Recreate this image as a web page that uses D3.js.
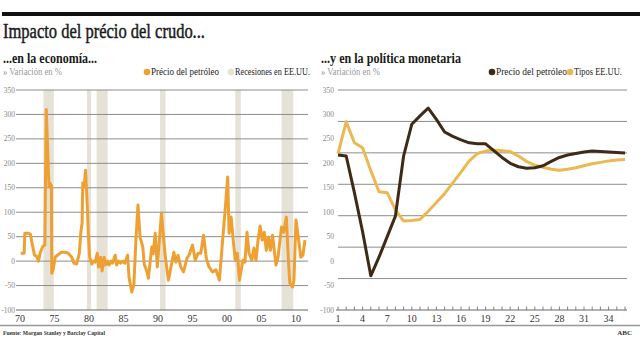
<!DOCTYPE html>
<html><head><meta charset="utf-8">
<script src="https://cdn.jsdelivr.net/npm/d3@7"></script>
<style>body{margin:0;background:#fff}svg{display:block}</style>
</head><body>
<script>
// ---- Data ----
const yTicks = [350,300,250,200,150,100,50,0,-50,-100];
const leftXTicks = [1970,1975,1980,1985,1990,1995,2000,2005,2010];
const leftXLabels = ["70","75","80","85","90","95","00","05","10"];
const recessions = [[1973.4,1974.9],[1979.7,1980.3],[1981.1,1982.7],[1990.3,1991.1],[2001.2,2002.0],[2007.9,2009.6]];
const oilYears = [1970.1,1970.6,1970.7,1971.2,1971.5,1971.8,1972.1,1972.4,1972.7,1972.9,1973.3,1973.6,1973.8,1974.0,1974.2,1974.3,1974.55,1974.6,1974.8,1975.1,1975.6,1976.0,1976.5,1977.0,1977.5,1977.8,1978.2,1978.6,1978.8,1979.0,1979.1,1979.3,1979.5,1979.8,1979.9,1980.1,1980.4,1980.6,1980.9,1981.2,1981.4,1981.7,1981.9,1982.2,1982.4,1982.7,1982.9,1983.2,1983.4,1983.8,1984.0,1984.3,1984.6,1984.9,1985.2,1985.6,1985.8,1986.2,1986.5,1986.8,1987.1,1987.4,1987.8,1988.0,1988.4,1988.6,1989.1,1989.3,1989.6,1989.9,1990.5,1991.0,1991.5,1991.8,1992.3,1992.6,1992.9,1993.3,1993.7,1994.2,1994.5,1995.0,1995.4,1995.8,1996.2,1996.6,1997.0,1997.4,1997.9,1998.4,1998.9,1999.4,1999.7,2000.1,2000.3,2000.6,2000.9,2001.2,2001.5,2001.8,2002.3,2002.6,2002.9,2003.2,2003.6,2003.9,2004.2,2004.5,2004.8,2005.1,2005.4,2005.7,2006.0,2006.3,2006.6,2007.1,2007.4,2007.9,2008.2,2008.6,2008.9,2009.1,2009.5,2009.7,2010.0,2010.2,2010.7,2011.0,2011.3];
const oilValues = [16,16,57,57,55,33,12,10,0,16,30,33,310,234,152,160,155,-25,-18,8,14,18,18,16,8,-4,-6,16,57,78,160,152,186,98,57,8,-6,0,-2,16,-12,8,-20,8,-8,0,-8,0,-4,12,-8,0,-4,0,-4,12,-33,-63,-49,43,115,49,29,-6,-22,-35,29,15,57,-12,98,16,-39,-18,18,-2,12,-12,-22,6,12,33,2,16,16,53,6,-12,-22,-18,-39,49,98,172,57,90,43,2,16,-39,2,-2,59,16,2,27,2,43,72,43,59,22,49,22,53,-8,8,70,59,90,2,-45,-53,-39,84,63,8,12,43];

const periods = d3.range(1,37);
const rightXTicks = [1,4,7,10,13,16,19,22,25,28,31,34];
const oilShock = [217,215,140,60,-30,8,50,92,215,280,297,313,290,264,255,248,242,240,240,226,212,200,193,190,191,195,204,212,217,220,223,225,224,223,222,221];
const ratesUS  = [220,285,242,232,185,142,140,105,82,83,85,102,120,138,160,182,205,220,225,227,226,224,215,204,196,192,188,186,188,191,195,199,202,205,207,208];

// ---- Drawing ----
const W=644,H=350;
const svg=d3.select("body").append("svg").attr("width",W).attr("height",H);
const SERIF="'Liberation Serif','DejaVu Serif',serif";
function txt(x,y,s,o){
  const t=svg.append("text").attr("x",x).attr("y",y).text(s)
    .attr("font-family",SERIF).attr("font-size",o.size).attr("fill",o.fill||"#222")
    .attr("font-weight",o.weight||"normal").attr("text-anchor",o.anchor||"start");
  if(o.len){t.attr("textLength",o.len).attr("lengthAdjust","spacingAndGlyphs");}
  if(o.stroke){t.attr("stroke",o.fill||"#222").attr("stroke-width",o.stroke);}
  return t;
}
svg.append("rect").attr("x",2).attr("y",12).attr("width",638).attr("height",4).attr("fill","#111");
txt(3,38,"Impacto del précio del crudo...",{size:20,len:202,fill:"#1a1a1a",stroke:0.45});
txt(3,63,"...en la economía...",{size:14,weight:"bold",len:94,fill:"#1a1a1a"});
txt(321,63,"...y en la política monetaria",{size:14,weight:"bold",len:140,fill:"#1a1a1a"});
txt(3,75,"» Variación en %",{size:9.5,len:59,fill:"#9a9a9a"});
txt(321,75,"» Variación en %",{size:9.5,len:59,fill:"#9a9a9a"});

const ORANGE="#eea033", BROWN="#3d2a17", GOLD="#ebb852", RECESS="#e7e2d7";
// legends
svg.append("circle").attr("cx",147).attr("cy",72).attr("r",3.3).attr("fill",ORANGE);
txt(151,75,"Précio del petróleo",{size:10,len:68});
svg.append("circle").attr("cx",231).attr("cy",72).attr("r",3.3).attr("fill",RECESS);
txt(235,75,"Recesiones en EE.UU.",{size:10,len:75});
svg.append("circle").attr("cx",492).attr("cy",72).attr("r",3.3).attr("fill",BROWN);
txt(496,75,"Precio del petróleo",{size:10,len:71});
svg.append("circle").attr("cx",570).attr("cy",72).attr("r",3.3).attr("fill",GOLD);
txt(574,75,"Tipos EE.UU.",{size:10,len:48});

// ---- Left chart ----
const xL=d3.scaleLinear().domain([1970,2010]).range([20,296]);
const yL=d3.scaleLinear().domain([-100,350]).range([310,90]);
const gL=svg.append("g");
gL.selectAll("rect.rec").data(recessions).join("rect")
  .attr("x",d=>xL(d[0])).attr("width",d=>xL(d[1])-xL(d[0]))
  .attr("y",yL(350)).attr("height",yL(-100)-yL(350)).attr("fill",RECESS);
gL.selectAll("line.grid").data(yTicks).join("line")
  .attr("x1",16).attr("x2",308).attr("y1",d=>yL(d)).attr("y2",d=>yL(d))
  .attr("stroke",d=>d===-100?"#666":"#8c8c8c").attr("stroke-width",1);
gL.selectAll("text.yl").data(yTicks).join("text")
  .attr("x",15).attr("y",d=>yL(d)+2.5).attr("text-anchor","end")
  .attr("font-family",SERIF).attr("font-size",7.5).attr("fill","#888").text(d=>d);
gL.selectAll("text.xl").data(leftXTicks).join("text")
  .attr("x",d=>xL(d)).attr("y",322).attr("text-anchor","middle")
  .attr("font-family",SERIF).attr("font-size",10).attr("fill","#333")
  .text((d,i)=>leftXLabels[i]);
const oilData=oilYears.map((y,i)=>[y,oilValues[i]]);
gL.append("path").datum(oilData).attr("fill","none").attr("stroke",ORANGE)
  .attr("stroke-width",3).attr("stroke-linejoin","round")
  .attr("d",d3.line().x(d=>xL(d[0])).y(d=>yL(d[1])));

// ---- Right chart ----
const xR=d3.scaleLinear().domain([1,36]).range([338,625]);
const yR=d3.scaleLinear().domain([-100,350]).range([310,90]);
const gridR=d3.scaleLinear().domain([0,7]).range([90,310]);
const gR=svg.append("g");
gR.selectAll("line.grid").data(d3.range(0,7)).join("line")
  .attr("x1",338).attr("x2",627).attr("y1",d=>gridR(d)).attr("y2",d=>gridR(d))
  .attr("stroke","#8c8c8c").attr("stroke-width",1);
gR.append("line").attr("x1",336).attr("x2",627).attr("y1",yR(-100)).attr("y2",yR(-100))
  .attr("stroke","#666").attr("stroke-width",1);
gR.selectAll("line.tk").data(periods).join("line")
  .attr("x1",d=>xR(d)).attr("x2",d=>xR(d)).attr("y1",yR(-100)).attr("y2",yR(-100)-3.5)
  .attr("stroke","#666").attr("stroke-width",0.8);
gR.selectAll("text.yl").data(yTicks).join("text")
  .attr("x",334).attr("y",d=>yR(d)+2.5).attr("text-anchor","end")
  .attr("font-family",SERIF).attr("font-size",7.5).attr("fill","#888").text(d=>d);
gR.selectAll("text.xl").data(rightXTicks).join("text")
  .attr("x",d=>xR(d)).attr("y",322).attr("text-anchor","middle")
  .attr("font-family",SERIF).attr("font-size",10).attr("fill","#333").text(d=>d);
const lineR=d3.line().x((d,i)=>xR(periods[i])).y(d=>yR(d));
gR.append("path").datum(ratesUS).attr("fill","none").attr("stroke",GOLD)
  .attr("stroke-width",3).attr("stroke-linejoin","round").attr("d",lineR);
gR.append("path").datum(oilShock).attr("fill","none").attr("stroke",BROWN)
  .attr("stroke-width",3).attr("stroke-linejoin","round").attr("d",lineR);

// ---- Footer ----
svg.append("line").attr("x1",0).attr("x2",640).attr("y1",325.5).attr("y2",325.5)
  .attr("stroke","#999").attr("stroke-width",1.5);
txt(3,335,"Fuente: Morgan Stanley y Barclay Capital",{size:7,weight:"bold",len:102,fill:"#333"});
txt(632,335,"ABC",{size:7,weight:"bold",anchor:"end",fill:"#333"});
</script>
</body></html>
